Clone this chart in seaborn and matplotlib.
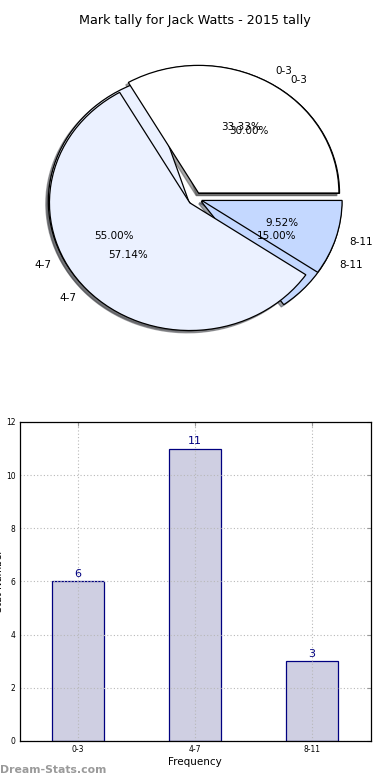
import pandas as pd
import seaborn as sns
import matplotlib.pyplot as plt

# Dados
faixas = ['0-3', '4-7', '8-11']
tally_2015 = [6, 11, 3]
tally_outro = [7, 12, 2]
cores_pie = ['#FFFFFF', '#EBF1FF', '#C4D8FF']

dados = pd.DataFrame({'faixa': faixas, 'valor': tally_2015})

sns.set_style('white')
plt.rcParams['font.family'] = ['DejaVu Sans']
plt.rcParams['text.color'] = 'black'
plt.rcParams['axes.labelcolor'] = 'black'
plt.rcParams['xtick.labelcolor'] = 'black'
plt.rcParams['ytick.labelcolor'] = 'black'

fig, (ax1, ax2) = plt.subplots(2, 1, figsize=(3.9, 7.8), dpi=100)
fig.subplots_adjust(left=0.05, right=0.95, top=0.95, bottom=0.05, hspace=0.2)

# Pizza (duas sobrepostas, como no original)
explode = [0.05, 0.05, 0.05]
wedge_kw = {'edgecolor': 'black', 'linewidth': 0.9}
text_kw = {'fontsize': 7.5, 'color': 'black'}
sombra = {'ox': -0.013, 'oy': -0.013}
ax1.pie(tally_2015, labels=faixas, colors=cores_pie, explode=explode,
        autopct='%.2f%%', shadow=sombra, wedgeprops=wedge_kw, textprops=text_kw)
ax1.pie(tally_outro, labels=faixas, colors=cores_pie, explode=explode,
        autopct='%.2f%%', shadow=sombra, wedgeprops=wedge_kw, textprops=text_kw)
ax1.set_aspect('auto')
ax1.set_xlim(-1.25, 1.25)
ax1.set_ylim(-1.25, 1.25)
ax1.set_title('Mark tally for Jack Watts - 2015 tally', fontsize=9.2, pad=11, color='black')

# Barras
sns.barplot(x='faixa', y='valor', data=dados, ax=ax2, width=0.45,
            color='navy', alpha=0.2, edgecolor='none')
sns.barplot(x='faixa', y='valor', data=dados, ax=ax2, width=0.45,
            fill=False, edgecolor='navy', linewidth=0.9)
for i, v in enumerate(tally_2015):
    ax2.text(i, v + 0.1, str(v), ha='center', va='bottom', color='navy', fontsize=8)

ax2.set_xlim(-0.5, 2.5)
ax2.set_ylim(0, 12)
ax2.set_xlabel('Frequency', fontsize=7.5, labelpad=2)
ax2.set_ylabel('')
ax2.grid(True, linestyle=(0, (1, 2)), color='#b8b8b8', linewidth=0.8)
ax2.set_axisbelow(False)
ax2.tick_params(axis='both', labelsize=5.5, direction='in', length=3,
                top=True, right=True, color='#999999', pad=3)
for s in ax2.spines.values():
    s.set_color('black')
    s.set_linewidth(0.9)
    s.set_zorder(5)

# rótulo do eixo y (cortado na borda, como no original)
fig.text(-0.002, 0.256, 'Stat Number', rotation=90, ha='center', va='center', fontsize=7)

# marca d'água
fig.text(0.0, 0.013, 'Dream-Stats.com', color='#9a9a9a', fontsize=7.8,
         fontweight='bold', ha='left', va='center')

plt.savefig('out.png', dpi=100)
